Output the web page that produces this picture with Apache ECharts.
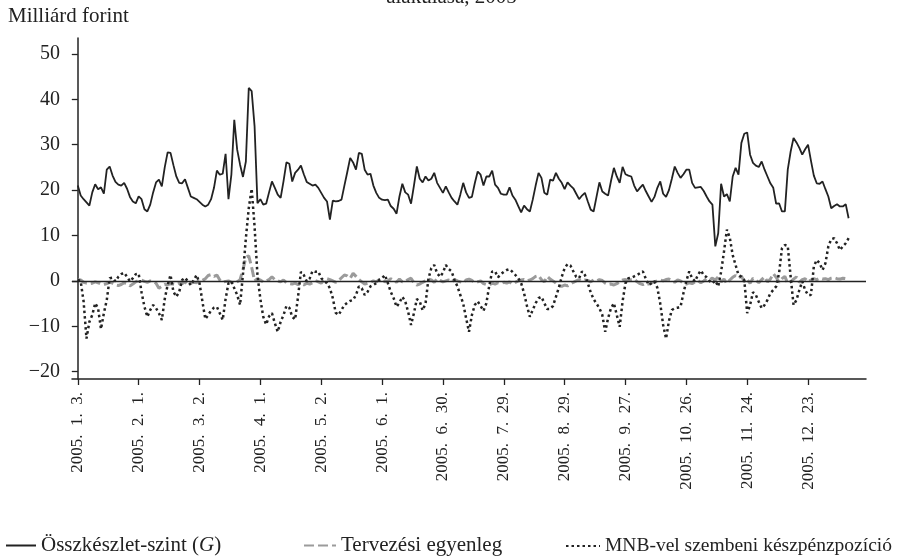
<!DOCTYPE html>
<html>
<head>
<meta charset="utf-8">
<script src="https://cdn.jsdelivr.net/npm/echarts@6/dist/echarts.min.js"></script>
<style>
  html, body { margin: 0; padding: 0; background: #fff; }
  #chart { width: 903px; height: 557px; }
</style>
</head>
<body>
<div id="chart"></div>
<script>
// tick positions (trading day index) and their date labels
var tickIdx = [0, 21, 42, 63, 84, 105, 126, 147, 168, 189, 210, 231, 252];
var tickLabels = ['2005.  1.  3.', '2005.  2.  1.', '2005.  3.  2.', '2005.  4.  1.', '2005.  5.  2.', '2005.  6.  1.',
  '2005.  6.  30.', '2005.  7.  29.', '2005.  8.  29.', '2005.  9.  27.', '2005.  10.  26.', '2005.  11.  24.', '2005.  12.  23.'];
var yTicks = [-20, -10, 0, 10, 20, 30, 40, 50];

// Összkészlet-szint (G), daily
var osszkeszlet = [
  21.0, 18.8, 18.0, 17.3, 16.6, 19.5, 21.3, 20.2, 20.6, 19.2, 24.5, 25.2, 23.2, 21.8, 21.2, 21.0, 21.6, 20.3, 18.5, 17.5,
  17.1, 18.6, 18.0, 15.8, 15.3, 16.8, 19.5, 21.7, 22.3, 20.8, 25.0, 28.3, 28.2, 25.5, 23.0, 21.6, 21.5, 22.4, 20.5, 18.6,
  18.3, 18.0, 17.4, 16.8, 16.4, 16.8, 18.0, 20.5, 24.3, 23.4, 23.6, 28.0, 18.0, 23.4, 35.5, 28.9, 25.6, 22.9, 26.3, 42.5,
  41.8, 34.1, 17.1, 18.0, 16.8, 17.0, 19.5, 21.9, 20.5, 19.0, 18.3, 22.0, 26.1, 25.8, 21.9, 23.8, 24.5, 25.4, 23.5, 21.8,
  21.4, 21.0, 21.2, 20.5, 19.4, 18.3, 17.5, 13.5, 17.7, 17.5, 17.6, 17.9, 21.0, 24.0, 27.1, 26.1, 24.5, 28.2, 28.0, 24.5,
  23.4, 23.6, 21.0, 19.4, 18.3, 17.9, 17.8, 17.9, 16.5, 15.9, 14.8, 18.6, 21.4, 19.5, 19.0, 17.0, 21.0, 25.2, 22.5, 21.7,
  23.0, 22.1, 22.5, 23.8, 21.6, 20.5, 19.4, 20.8, 19.5, 18.3, 17.5, 16.8, 19.0, 21.6, 19.5, 18.3, 18.5, 21.5, 24.1, 23.4,
  21.0, 23.0, 23.0, 24.3, 21.2, 20.5, 19.2, 19.0, 19.0, 20.6, 18.8, 17.9, 16.5, 15.1, 16.6, 15.8, 15.3, 17.9, 21.0, 23.8,
  22.7, 19.4, 19.0, 22.3, 22.1, 23.8, 22.5, 21.6, 20.2, 21.7, 21.0, 20.4, 19.2, 18.0, 18.8, 19.4, 17.5, 15.7, 15.3, 18.5,
  21.7, 19.7, 19.2, 18.8, 22.0, 24.9, 23.0, 21.6, 25.1, 23.5, 23.2, 23.0, 21.0, 19.7, 20.5, 21.2, 19.8, 18.6, 17.4, 18.5,
  20.5, 21.9, 19.2, 18.5, 20.0, 22.5, 25.2, 23.8, 22.7, 23.5, 24.5, 24.5, 21.6, 20.5, 20.6, 20.7, 19.8, 18.6, 17.5, 16.8,
  7.6, 10.5, 21.4, 18.6, 19.1, 17.5, 23.0, 24.9, 23.4, 30.4, 32.4, 32.7, 27.8, 26.0, 25.4, 25.1, 26.3, 24.5, 23.0, 21.5,
  20.5, 17.0, 17.1, 15.3, 15.3, 24.5, 28.5, 31.5, 30.5, 29.3, 27.8, 29.0, 30.0, 26.5, 23.2, 21.5, 21.4, 21.9, 20.2, 18.6,
  16.0, 16.5, 16.9, 16.4, 16.4, 16.9, 13.8
];

// Tervezési egyenleg, daily
var tervezesi = [
  0.3, 0.2, -0.3, -0.5, -0.6, -0.5, -0.2, -0.4, -0.7, -0.8, -0.6,
  -0.3, -0.5, -0.9, -1.0, -0.8, -0.4, -0.6, -1.1, -0.7, -0.2, 0.1,
  0.2, -0.1, -0.3, 0.0, -0.2, -0.5, -1.6, -1.2, -0.8, -0.9, -0.6,
  -0.7, -0.8, -0.5, -0.6, -0.2, -0.8, -0.5, -0.3, -0.4, 0.2, 0.1,
  0.5, 1.2, 1.4, 1.0, 1.3, 0.2, -0.3, -0.1, 0.0, -0.3, -0.6,
  -0.2, 0.3, 2.5, 5.2, 5.5, 3.0, 0.0, 0.5, 0.2, -0.2, 0.0,
  0.3, 0.9, 0.3, 0.0, -0.2, 0.2, -0.4, -0.6, -0.7, -0.5, -0.8,
  -0.6, -0.9, -0.5, -0.7, -0.4, 0.1, -0.2, -0.5, 0.2, 0.5, 0.3,
  0.0, -0.3, 0.1, 0.7, 1.3, 1.1, 0.6, 1.7, 1.0, 0.3, -0.2,
  -0.7, -0.5, -0.3, 0.0, -0.2, 0.3, 0.4, -0.2, 0.0, 0.5, 0.1,
  -0.3, 0.4, -0.2, -0.1, 0.3, 0.6, -0.4, -0.9, -0.7, -0.3, 0.0,
  0.4, 0.2, -0.3, 0.5, 0.1, -0.2, 0.0, 0.2, -0.2, 0.3, 0.0,
  -0.2, -0.4, 0.2, 0.4, 0.1, -0.3, -0.2, 0.0, -0.6, -0.8, -0.9,
  -0.5, -0.7, -0.4, -0.6, -0.3, -0.5, -0.2, -0.7, -0.3, 0.0, 0.2,
  0.3, 0.0, 0.2, 0.5, 1.0, 1.2, 0.3, -0.2, 1.0, 0.4, 0.0,
  -0.5, -1.0, -1.2, -0.9, -1.1, -0.7, -0.3, 0.0, 0.3, 0.0, 0.2,
  0.1, -0.2, 0.2, 0.0, 0.3, 0.1, -0.5, -0.8, -0.7, -0.9, -0.6,
  -0.2, 0.2, 0.3, 0.1, 0.3, 0.4, -0.2, -0.6, -0.8, -0.5, -0.7,
  -0.4, -0.2, 0.0, 0.2, 0.0, 0.3, 0.4, 0.1, -0.3, 0.2, 0.0,
  -0.5, -0.7, -0.4, -0.6, -0.2, 0.1, -0.4, 0.0, 0.5, 0.3, 0.6,
  0.2, 0.9, -0.2, 0.4, -0.6, 0.2, 0.8, 1.2, 0.6, 1.1, -0.2,
  0.3, -0.5, 0.6, 0.2, -0.4, 0.3, 0.9, -0.2, 0.4, 1.6, 0.8,
  -0.3, 0.5, 1.0, -0.6, -0.2, 0.4, 0.9, -0.3, 0.3, 0.5, -0.2,
  0.2, 0.5, 0.3, 0.6, 0.4, 0.5, 0.3, 0.6, 0.7, 0.5, 0.4, 0.6, 0.5, 0.7
];

// MNB-vel szembeni készpénzpozíció, daily
var mnbPozicio = [
  0.3, -0.1, -4.5, -12.7, -9.0, -7.5, -4.9, -6.0, -10.6, -7.1, -4.2, 0.6, 0.7, -0.1, 0.9, 1.5, 1.8, 0.9, -0.1, 0.6,
  1.5, 1.6, -2.5, -5.7, -7.9, -6.4, -5.3, -6.0, -7.1, -8.6, -4.0, -0.9, 1.3, -2.4, -3.5, -2.4, 0.2, 0.7, -0.1, -0.9,
  0.2, 1.3, -0.5, -4.5, -8.4, -7.5, -6.5, -5.9, -5.7, -7.1, -8.6, -4.0, -0.5, -0.1, -1.6, -3.1, -5.3, 1.5, 9.4, 16.0,
  20.3, 12.0, 1.3, -4.0, -7.9, -9.6, -7.8, -7.1, -9.3, -11.2, -9.0, -7.5, -5.5, -5.9, -7.9, -8.5, -3.5, 2.0, 1.3, -0.1,
  0.5, 2.2, 2.0, 2.1, 0.6, 0.0, -0.5, -1.6, -3.8, -7.0, -7.5, -6.4, -5.3, -4.8, -4.4, -4.2, -3.1, -1.2, -1.6, -3.1,
  -2.4, -1.2, -0.9, -0.5, 0.2, 0.6, 1.3, -0.5, -2.4, -3.8, -5.7, -4.8, -3.5, -4.5, -6.8, -9.7, -7.1, -4.0, -4.5, -6.5,
  -5.0, 0.5, 2.8, 3.5, 1.7, 0.9, 1.8, 3.5, 2.6, 2.1, 0.2, -1.2, -3.1, -5.0, -8.2, -11.2, -7.5, -5.3, -4.5, -5.5,
  -6.6, -4.9, -1.0, 2.1, 2.1, 0.8, 1.5, 2.0, 2.4, 2.6, 2.0, 1.3, 0.6, -0.5, -2.7, -5.5, -7.9, -6.4, -4.9, -3.8,
  -3.5, -4.9, -6.2, -6.2, -5.5, -3.5, -1.5, 0.9, 2.8, 3.7, 3.4, 2.1, 0.9, 0.6, 2.1, 1.3, -0.5, -2.5, -4.0, -5.0,
  -6.0, -7.5, -11.2, -8.2, -6.0, -4.9, -7.5, -10.1, -4.5, -0.5, 0.6, 0.7, 1.0, 1.3, 1.7, 2.1, 0.5, -0.9, -0.5, -0.1,
  -1.5, -5.0, -9.7, -12.7, -8.8, -6.4, -6.0, -5.9, -5.7, -2.7, 0.0, 2.1, 0.6, -0.1, 1.3, 2.3, 1.3, 0.8, 0.0, -0.5,
  0.1, -1.2, 2.0, 6.5, 11.3, 9.5, 5.7, 3.5, 1.3, 0.9, 0.2, -7.1, -5.3, -2.5, -3.1, -4.6, -6.0, -5.3, -4.2, -2.7,
  -2.0, -1.2, 1.7, 7.2, 7.9, 7.7, 0.9, -5.3, -4.2, -2.0, -0.1, -2.0, -3.1, -3.1, 3.2, 4.6, 3.9, 2.4, 3.9, 7.6,
  9.2, 9.4, 8.3, 6.8, 7.6, 8.3, 9.4
];

var serif = 'Liberation Serif';
var toPairs = function (arr) { return arr.map(function (v, i) { return [i, v]; }); };

var chart = echarts.init(document.getElementById('chart'));
chart.setOption({
  backgroundColor: '#fff',
  animation: false,
  textStyle: { fontFamily: serif, color: '#222' },
  graphic: [
    { type: 'text', left: 'center', top: -13, style: { text: 'alakulása, 2005', font: '21px "Liberation Serif"', fill: '#222' } },
    { type: 'text', left: 8, top: 6, style: { text: 'Milliárd forint', font: '21px "Liberation Serif"', fill: '#222' } }
  ],
  grid: { left: 72, right: 37, top: 38, bottom: 178 },
  legend: [
    {
      data: ['Összkészlet-szint (G)'], left: 0, top: 530, itemWidth: 30, itemHeight: 14, itemGap: 5,
      itemStyle: { opacity: 0 },
      formatter: function () { return 'Összkészlet-szint ({i|G})'; },
      textStyle: { fontFamily: serif, fontSize: 21, color: '#222',
        rich: { i: { fontFamily: serif, fontSize: 21, fontStyle: 'italic', color: '#222' } } }
    },
    { data: ['Tervezési egyenleg'], left: 298, top: 530, itemWidth: 32, itemHeight: 14,
      itemStyle: { opacity: 0 }, textStyle: { fontFamily: serif, fontSize: 21, color: '#222' } },
    { data: ['MNB-vel szembeni készpénzpozíció'], left: 560, top: 531, itemWidth: 34, itemHeight: 14,
      itemStyle: { opacity: 0 }, textStyle: { fontFamily: serif, fontSize: 19.5, color: '#222' } }
  ],
  xAxis: {
    type: 'value', min: -2, max: 272,
    splitLine: { show: false },
    axisLine: { onZero: false, lineStyle: { color: '#222', width: 1.5 } },
    axisTick: { customValues: tickIdx, length: 6, lineStyle: { color: '#222', width: 1.3 } },
    axisLabel: {
      customValues: tickIdx, rotate: 90, margin: 13, fontFamily: serif, fontSize: 17, color: '#222',
      formatter: function (v) { return tickLabels[tickIdx.indexOf(Math.round(v))] || ''; }
    }
  },
  yAxis: {
    type: 'value', min: -21.6, max: 53.5,
    splitLine: { show: false },
    axisLine: { show: true, lineStyle: { color: '#222', width: 1.5 } },
    axisTick: { show: true, customValues: yTicks, length: 6, lineStyle: { color: '#222', width: 1.3 } },
    axisLabel: {
      customValues: yTicks, margin: 12, fontFamily: serif, fontSize: 20, color: '#222',
      formatter: function (v) { return String(v).replace('-', '\u2212'); }
    }
  },
  series: [
    {
      name: 'Tervezési egyenleg', type: 'line', data: toPairs(tervezesi), symbol: 'none', z: 2,
      lineStyle: { color: '#9b9b9b', width: 3, type: [10, 4] }, itemStyle: { color: '#9b9b9b' }
    },
    {
      name: 'MNB-vel szembeni készpénzpozíció', type: 'line', data: toPairs(mnbPozicio), symbol: 'none', z: 3,
      lineStyle: { color: '#222', width: 2.5, type: [2.5, 3] }, itemStyle: { color: '#222' }
    },
    {
      name: 'Összkészlet-szint (G)', type: 'line', data: toPairs(osszkeszlet), symbol: 'none', z: 4,
      lineStyle: { color: '#222', width: 1.8 }, itemStyle: { color: '#222' },
      markLine: {
        silent: true, symbol: 'none', label: { show: false }, z: 5,
        lineStyle: { color: '#222', width: 1.3, type: 'solid' },
        data: [{ yAxis: 0 }]
      }
    }
  ]
});
</script>
</body>
</html>
